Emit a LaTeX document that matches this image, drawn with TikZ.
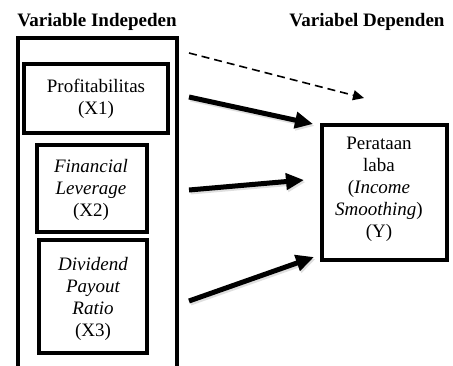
\documentclass[tikz,border=0pt]{standalone}
\usepackage{fontspec}
\setmainfont{Liberation Serif}
\usetikzlibrary{arrows.meta}
\begin{document}
\begin{tikzpicture}[x=1pt,y=-1pt,
  every node/.style={font=\fontsize{19}{22}\selectfont},
  varbox/.style={draw, line width=3.2pt, inner sep=0pt},
  txt/.style={align=center, inner sep=0pt},
  title/.style={font=\fontsize{19}{22}\selectfont\bfseries, inner sep=0pt},
  bigarrow/.style={line width=5pt, -{Triangle[length=18pt,width=16pt]}},
  shadowarrow/.style={line width=5pt, draw=black!25, opacity=0.5, -{Triangle[length=18pt,width=16pt]}},
  dasharrow/.style={line width=1.6pt, dash pattern=on 8pt off 5pt, -{Triangle[length=11pt,width=10pt]}}]
\useasboundingbox (0,0) rectangle (453,365);
% titles
\node[title] (t1) at (97,22) {Variable Indepeden};
\node[title] (t2) at (367,22) {Variabel Dependen};
% outer open box
\draw[line width=3.2pt] (18,366) -- (18,38) -- (177,38) -- (177,366);
% variable boxes
\node[varbox, minimum width=144pt, minimum height=69pt] (x1) at (96,98.5) {};
\node[txt] at (96,99) {Profitabilitas\\(X1)};
\node[varbox, minimum width=110pt, minimum height=87pt] (x2) at (92,188.5) {};
\node[txt] at (91,190) {\itshape Financial\\\itshape Leverage\\(X2)};
\node[varbox, minimum width=108pt, minimum height=113pt] (x3) at (93,296.5) {};
\node[txt] at (93,299) {\itshape Dividend\\\itshape Payout\\\itshape Ratio\\(X3)};
\node[varbox, minimum width=125pt, minimum height=135pt] (y) at (384.5,192.5) {};
\node[txt] at (379,189) {Perataan\\laba\\(\textit{Income}\\\textit{Smoothing})\\(Y)};
% arrow end points
\coordinate (d0) at (189,53);
\coordinate (d1) at (364,98);
\coordinate (a0) at (189,97);
\coordinate (a1) at (313,124);
\coordinate (b0) at (189,190);
\coordinate (b1) at (304,180);
\coordinate (c0) at (189,301);
\coordinate (c1) at (314,257);
% shadows
\draw[shadowarrow] ([shift={(1.5,2)}]a0) -- ([shift={(1.5,2)}]a1);
\draw[shadowarrow] ([shift={(1.5,2)}]b0) -- ([shift={(1.5,2)}]b1);
\draw[shadowarrow] ([shift={(1.5,2)}]c0) -- ([shift={(1.5,2)}]c1);
% arrows
\draw[dasharrow] (d0) -- (d1);
\draw[bigarrow] (a0) -- (a1);
\draw[bigarrow] (b0) -- (b1);
\draw[bigarrow] (c0) -- (c1);
\end{tikzpicture}
\end{document}
